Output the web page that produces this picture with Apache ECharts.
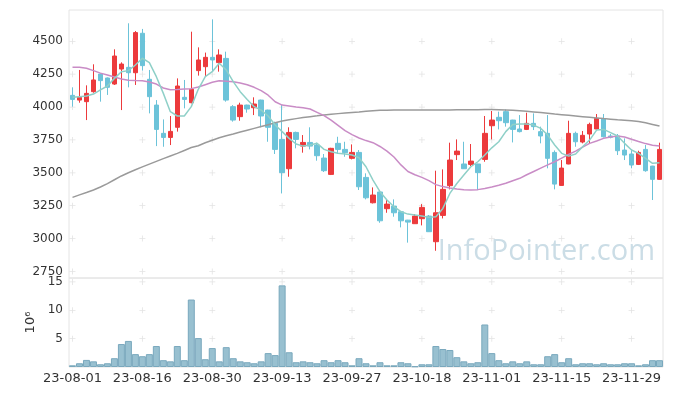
<!DOCTYPE html>
<html><head><meta charset="utf-8">
<script src="https://cdn.jsdelivr.net/npm/echarts@6/dist/echarts.min.js"></script>
<style>html,body{margin:0;padding:0;background:#fff}#c{width:673px;height:396px}</style>
</head><body><div id="c"></div>
<script>
const dates = [
"23-08-01","23-08-02","23-08-03","23-08-04","23-08-07","23-08-08","23-08-09","23-08-10","23-08-11","23-08-14",
"23-08-16","23-08-17","23-08-18","23-08-21","23-08-22","23-08-23","23-08-24","23-08-25","23-08-28","23-08-29",
"23-08-30","23-08-31","23-09-01","23-09-04","23-09-05","23-09-06","23-09-07","23-09-08","23-09-11","23-09-12",
"23-09-13","23-09-14","23-09-15","23-09-18","23-09-19","23-09-20","23-09-21","23-09-22","23-09-25","23-09-26",
"23-09-27","23-10-04","23-10-05","23-10-06","23-10-10","23-10-11","23-10-12","23-10-13","23-10-16","23-10-17",
"23-10-18","23-10-19","23-10-20","23-10-23","23-10-24","23-10-25","23-10-26","23-10-27","23-10-30","23-10-31",
"23-11-01","23-11-02","23-11-03","23-11-06","23-11-07","23-11-08","23-11-09","23-11-10","23-11-13","23-11-14",
"23-11-15","23-11-16","23-11-17","23-11-20","23-11-21","23-11-22","23-11-23","23-11-24","23-11-27","23-11-28",
"23-11-29","23-11-30","23-12-01","23-12-04","23-12-05"];
const opens = [4089,4053,4041,4117,4251,4221,4175,4289,4302,4261,4561,4211,4015,3800,3769,3846,4074,4033,4277,4307,
4378,4338,4370,4003,3927,4015,3995,4053,3977,3876,3754,3531,3807,3703,3731,3711,3612,3488,3724,3678,
3610,3655,3465,3272,3354,3227,3247,3204,3140,3113,3151,3171,2976,3176,3402,3638,3567,3564,3567,3602,
3858,3922,3965,3901,3833,3830,3876,3813,3800,3655,3404,3567,3800,3734,3795,3833,3911,3780,3780,3673,
3643,3564,3678,3551,3450];
const closes = [4058,4074,4104,4206,4201,4150,4388,4327,4261,4566,4315,4079,3830,3769,3815,4160,4058,4135,4358,4378,
4358,4396,4053,3901,4015,3985,4023,3932,3846,3678,3501,3807,3754,3731,3703,3630,3516,3686,3678,3653,
3655,3394,3310,3331,3135,3262,3196,3135,3125,3171,3237,3052,3196,3374,3597,3665,3531,3589,3501,3800,
3901,3896,3881,3830,3813,3876,3851,3780,3610,3414,3536,3800,3736,3785,3868,3914,3774,3770,3668,3635,
3559,3655,3516,3450,3678];
const lows = [4003,4033,3901,4109,4041,4092,4168,3977,4150,4168,4277,3952,3703,3698,3711,3813,3990,4028,4239,4236,
4269,4269,4041,3889,3896,3957,3939,3846,3736,3643,3343,3470,3686,3653,3678,3592,3506,3483,3643,3622,
3602,3369,3298,3267,3120,3196,3166,3085,2969,3111,3100,3050,2907,3153,3374,3597,3529,3551,3369,3584,
3754,3830,3851,3731,3807,3825,3825,3724,3534,3374,3402,3565,3698,3724,3724,3831,3769,3762,3635,3597,
3534,3559,3508,3293,3448];
const highs = [4150,4282,4165,4325,4255,4225,4439,4340,4637,4578,4594,4282,4053,3906,3932,4218,4206,4573,4454,4414,
4667,4439,4421,4015,4033,4018,4074,4056,3980,3889,4015,3846,3813,3787,3846,3729,3643,3690,3774,3736,
3716,3673,3496,3389,3356,3293,3298,3206,3142,3186,3262,3179,3516,3526,3729,3754,3736,3719,3569,3932,
3970,3965,3982,3903,3939,3957,3952,3851,3939,3670,3597,3896,3813,3818,3881,3947,3947,3795,3795,3762,
3678,3668,3711,3553,3729];
const ma5 = [4074,4079,4084,4099,4130,4160,4218,4269,4277,4320,4371,4338,4231,4104,3965,3932,3932,4003,4135,4231,
4269,4333,4282,4193,4117,4058,4003,3977,3932,3863,3813,3762,3719,3703,3711,3724,3678,3660,3648,3643,
3635,3615,3546,3445,3356,3293,3242,3204,3186,3179,3171,3161,3166,3229,3343,3419,3483,3546,3584,3635,
3690,3736,3813,3868,3871,3871,3863,3838,3787,3711,3648,3627,3643,3698,3749,3825,3830,3805,3780,3724,
3673,3648,3610,3572,3577];
const ma20 = [4302,4302,4295,4277,4258,4243,4228,4213,4204,4201,4200,4190,4175,4145,4132,4133,4137,4140,4152,4170,
4188,4200,4197,4192,4183,4170,4150,4125,4090,4040,4015,4008,4000,3994,3985,3960,3935,3900,3860,3820,
3790,3765,3745,3729,3700,3665,3620,3560,3510,3485,3465,3440,3410,3395,3385,3376,3372,3369,3372,3380,
3392,3405,3420,3440,3458,3485,3510,3535,3560,3584,3612,3640,3665,3695,3724,3742,3762,3772,3780,3772,
3755,3738,3722,3710,3703];
const ma60 = [3313,3332,3350,3369,3392,3418,3447,3476,3500,3523,3545,3566,3587,3608,3628,3648,3670,3692,3706,3728,
3748,3767,3782,3795,3810,3824,3838,3852,3866,3880,3894,3903,3912,3920,3927,3933,3940,3946,3950,3954,
3958,3962,3968,3972,3975,3976,3977,3977,3977,3977,3977,3977,3977,3978,3978,3979,3979,3980,3980,3981,
3981,3980,3978,3975,3972,3968,3963,3958,3953,3947,3942,3937,3932,3927,3922,3917,3912,3908,3903,3899,
3895,3890,3880,3868,3856];
const volumes = [0.3,0.66,1.25,1.0,0.48,0.66,1.55,4.05,4.6,2.27,1.9,2.27,3.7,1.2,1.0,3.7,1.2,11.9,5.1,1.37,
3.34,1.0,3.5,1.55,1.0,0.84,0.66,1.0,2.45,2.1,14.4,2.6,0.84,1.0,0.84,0.66,1.2,0.84,1.2,0.84,
0.3,1.55,0.66,0.3,0.84,0.3,0.3,0.84,0.66,0.12,0.48,0.48,3.7,3.17,3.0,1.73,1.0,0.66,0.84,7.5,
2.45,1.2,0.66,1.0,0.66,1.0,0.48,0.48,1.9,2.27,0.84,1.55,0.48,0.66,0.66,0.48,0.66,0.48,0.48,0.66,
0.66,0.3,0.48,1.2,1.2];
const priceTicks = [2750,3000,3250,3500,3750,4000,4250,4500];
const volumeTicks = [5,10,15];

const candleData = dates.map((d,i)=>[opens[i],closes[i],lows[i],highs[i]]);
const labelIdx = dates.map((d,i)=>i).filter(i=>i%10===0);
const plusPath = 'path://M2.6,0H3.4V2.6H6V3.4H3.4V6H2.6V3.4H0V2.6H2.6Z';
const crossPrice = [], crossVol = [];
labelIdx.forEach(i=>{ priceTicks.forEach(v=>crossPrice.push([i,v])); volumeTicks.forEach(v=>crossVol.push([i,v])); });

const font = 'DejaVu Sans';
const chart = echarts.init(document.getElementById('c'), null, {renderer:'canvas'});
chart.setOption({
  animation:false,
  backgroundColor:'#fff',
  grid:[
    {left:69, right:10, top:10, height:268, show:true, borderColor:'#e4e4e4', borderWidth:1},
    {left:69, right:10, top:278, height:89, show:true, borderColor:'#e4e4e4', borderWidth:1}
  ],
  graphic:[{type:'text', right:18, top:237, z:0, silent:true,
    style:{text:'InfoPointer.com', font:'29px "Open Sans"', fill:'#cbdde6'}}],
  xAxis:[
    {type:'category', gridIndex:0, data:dates, boundaryGap:true, axisLine:{show:false}, axisTick:{show:false}, axisLabel:{show:false}, splitLine:{show:false}},
    {type:'category', gridIndex:1, data:dates, boundaryGap:true, axisLine:{show:false}, axisTick:{show:false},
     axisLabel:{interval:9, margin:5, color:'#333', fontFamily:font, fontSize:13}, splitLine:{show:false}}
  ],
  yAxis:[
    {type:'value', gridIndex:0, min:2700, max:4738, axisLine:{show:false}, axisTick:{show:false}, splitLine:{show:false},
     axisLabel:{customValues:priceTicks, formatter:v=>String(v), margin:6, color:'#333', fontFamily:font, fontSize:12}},
    {type:'value', gridIndex:1, min:0, max:15.7, axisLine:{show:false}, axisTick:{show:false}, splitLine:{show:false},
     axisLabel:{customValues:volumeTicks, formatter:v=>String(v), margin:6, color:'#333', fontFamily:font, fontSize:12},
     name:'10⁶', nameLocation:'middle', nameRotate:90, nameGap:30, nameTextStyle:{color:'#333', fontFamily:font, fontSize:13}}
  ],
  series:[
    {type:'scatter', xAxisIndex:0, yAxisIndex:0, data:crossPrice, symbol:plusPath, symbolSize:6, silent:true, z:1,
     itemStyle:{color:'#dcdcdc'}},
    {type:'scatter', xAxisIndex:1, yAxisIndex:1, data:crossVol, symbol:plusPath, symbolSize:6, silent:true, z:1,
     itemStyle:{color:'#dcdcdc'}},
    {type:'candlestick', xAxisIndex:0, yAxisIndex:0, data:candleData, barWidth:5, z:3,
     itemStyle:{color:'#ec3a3c', color0:'#6cc3d9', borderColor:'#ec3a3c', borderColor0:'#6cc3d9', borderWidth:1}},
    {type:'line', xAxisIndex:0, yAxisIndex:0, data:ma60, symbol:'none', z:4, lineStyle:{color:'#9a9a9a', width:1.5}},
    {type:'line', xAxisIndex:0, yAxisIndex:0, data:ma20, symbol:'none', z:4, lineStyle:{color:'#c98cc6', width:1.5}},
    {type:'line', xAxisIndex:0, yAxisIndex:0, data:ma5, symbol:'none', z:4, lineStyle:{color:'#8fd0c8', width:1.5}},
    {type:'bar', xAxisIndex:1, yAxisIndex:1, data:volumes, barWidth:'100%', z:3,
     itemStyle:{color:'#98c0d0', borderColor:'#79a8bd', borderWidth:1}}
  ]
});
</script></body></html>
